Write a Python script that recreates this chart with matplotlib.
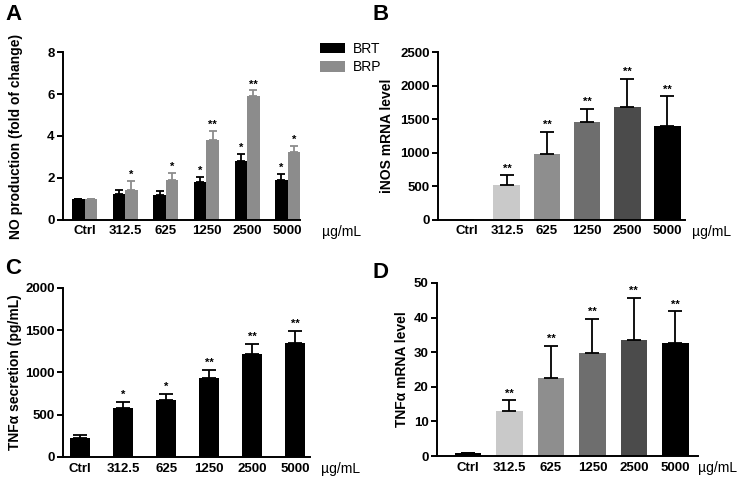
import numpy as np
import matplotlib.pyplot as plt

plt.rcParams['font.family'] = ['Liberation Sans', 'DejaVu Sans']

# data
cats = ['Ctrl', '312.5', '625', '1250', '2500', '5000']

brt = [1.0, 1.23, 1.21, 1.8, 2.8, 1.9]
brt_err = [0.0, 0.2, 0.18, 0.25, 0.34, 0.28]
brt_sig = ['', '', '', '*', '*', '*']
brp = [1.0, 1.42, 1.88, 3.8, 5.93, 3.22]
brp_err = [0.0, 0.44, 0.34, 0.45, 0.24, 0.29]
brp_sig = ['', '*', '*', '**', '**', '*']

inos = [1, 520, 975, 1465, 1688, 1396]
inos_err = [0, 148, 337, 193, 411, 446]
inos_sig = ['', '**', '**', '**', '**', '**']

tnf_sec = [230, 583, 679, 933, 1214, 1345]
tnf_sec_err = [28, 64, 71, 99, 127, 139]
tnf_sec_sig = ['', '*', '*', '**', '**', '**']

tnf_mrna = [0.95, 13.0, 22.5, 29.8, 33.6, 32.6]
tnf_mrna_err = [0.0, 3.1, 9.4, 9.9, 12.2, 9.2]
tnf_mrna_sig = ['', '**', '**', '**', '**', '**']

grays = ['#000000', '#c9c9c9', '#8e8e8e', '#6e6e6e', '#4b4b4b', '#000000']

W, H = 738, 478
fig = plt.figure(figsize=(W / 100, H / 100), dpi=100)


def style(ax, ymax, step, xlim, ylabel, label_x, unit_xy):
    ax.spines['top'].set_visible(False)
    ax.spines['right'].set_visible(False)
    for s in ['left', 'bottom']:
        ax.spines[s].set_linewidth(1.4)
    ax.set_ylim(0, ymax)
    ax.set_yticks(np.arange(0, ymax + step / 2, step))
    ax.set_xlim(*xlim)
    ax.set_xticks(np.arange(len(cats)))
    ax.set_xticklabels(cats)
    ax.tick_params(axis='x', length=0, pad=4)
    ax.tick_params(axis='y', length=4, width=1.4, pad=2)
    for lab in ax.get_xticklabels() + ax.get_yticklabels():
        lab.set_fontweight('bold')
        lab.set_fontsize(9.5)
    ax.set_ylabel(ylabel, fontsize=10, fontweight='bold')
    ax.yaxis.set_label_coords(label_x, 0.5)
    fig.text(unit_xy[0] / W, 1 - unit_xy[1] / H, 'µg/mL', fontsize=10,
             va='center', ha='left')


def stars(ax, xs, tops, sig, off):
    for x, t, s in zip(xs, tops, sig):
        if s:
            ax.text(x, t + off, s, ha='center', va='bottom', fontsize=8,
                    fontweight='bold')


x = np.arange(len(cats))

# A
axA = fig.add_axes([0.0854, 0.540, 0.321, 0.351])
w = 0.31
axA.bar(x - w / 2, brt, w, color='black', label='BRT',
        yerr=[np.zeros(6), brt_err], capsize=3,
        error_kw=dict(elinewidth=1.3, capthick=1.3, ecolor='black'))
axA.bar(x + w / 2, brp, w, color='#8c8c8c', label='BRP',
        yerr=[np.zeros(6), brp_err], capsize=3,
        error_kw=dict(elinewidth=1.3, capthick=1.3, ecolor='#8c8c8c'))
style(axA, 8, 2, (-0.53, 5.3), 'NO production (fold of change)',
      -0.17, (322, 232))
stars(axA, x - w / 2, np.add(brt, brt_err), brt_sig, 0.05)
stars(axA, x + w / 2, np.add(brp, brp_err), brp_sig, 0.05)
axA.legend(loc='upper left', bbox_to_anchor=(1.03, 1.135), frameon=False,
           fontsize=10, handlelength=1.8, handleheight=0.8,
           handletextpad=0.6, labelspacing=0.3)

# B
axB = fig.add_axes([0.5935, 0.540, 0.335, 0.351])
axB.bar(x, inos, 0.67, color=grays,
        yerr=[np.zeros(6), inos_err], capsize=5,
        error_kw=dict(elinewidth=1.3, capthick=1.3, ecolor='black'))
style(axB, 2500, 500, (-0.72, 5.45), 'iNOS mRNA level', -0.18, (692, 232))
stars(axB, x, np.add(inos, inos_err), inos_sig, 25)

# C
axC = fig.add_axes([0.0854, 0.044, 0.335, 0.354])
axC.bar(x, tnf_sec, 0.47, color='black',
        yerr=[np.zeros(6), tnf_sec_err], capsize=5,
        error_kw=dict(elinewidth=1.3, capthick=1.3, ecolor='black'))
style(axC, 2000, 500, (-0.4, 5.35), 'TNFα secretion (pg/mL)',
      -0.166, (321, 469))
stars(axC, x, np.add(tnf_sec, tnf_sec_err), tnf_sec_sig, 25)

# D
axD = fig.add_axes([0.592, 0.046, 0.354, 0.362])
axD.bar(x, tnf_mrna, 0.64, color=grays,
        yerr=[np.zeros(6), tnf_mrna_err], capsize=5,
        error_kw=dict(elinewidth=1.3, capthick=1.3, ecolor='black'))
style(axD, 50, 10, (-0.75, 5.55), 'TNFα mRNA level', -0.105, (698, 468))
stars(axD, x, np.add(tnf_mrna, tnf_mrna_err), tnf_mrna_sig, 0.4)

# panel letters
for lx, ly, t in [(5, 4, 'A'), (372, 4, 'B'), (5, 258, 'C'), (373, 262, 'D')]:
    fig.text(lx / W, 1 - ly / H, t, fontsize=16, fontweight='bold',
             va='top', ha='left')

fig.savefig('out.png', dpi=100)
